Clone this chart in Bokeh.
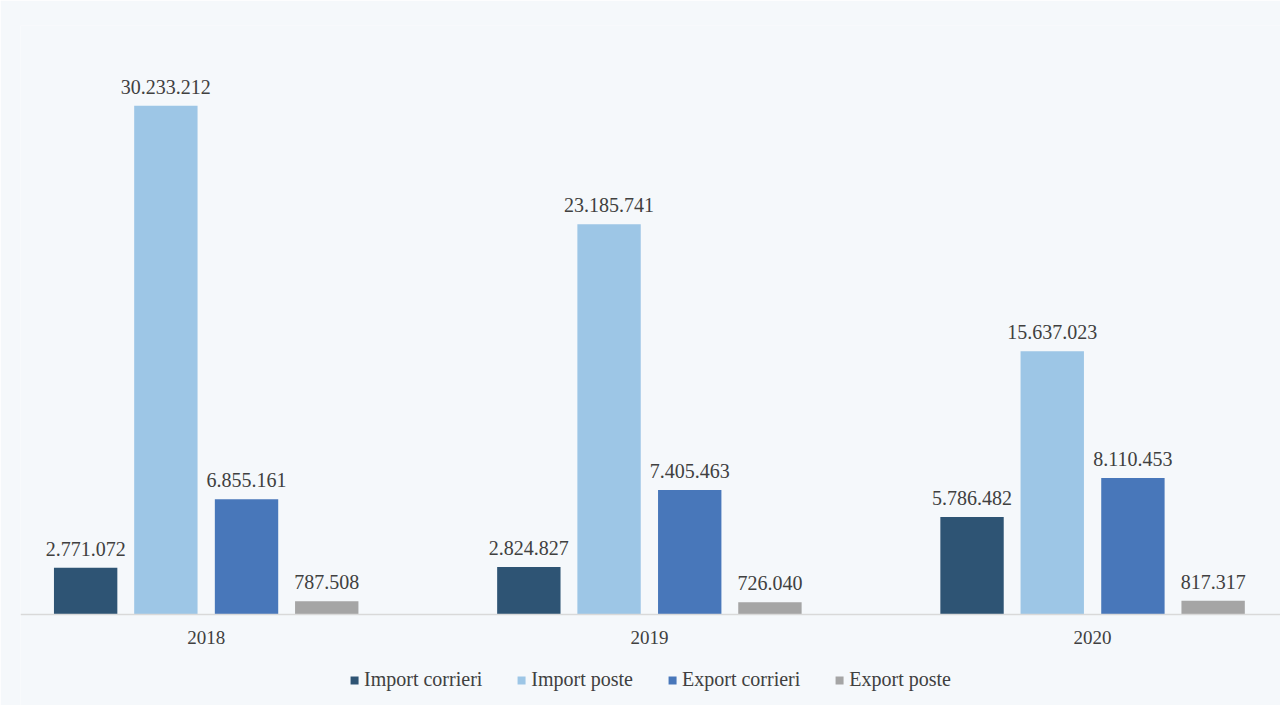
from bokeh.plotting import figure
from bokeh.models import ColumnDataSource, Legend, LegendItem, FixedTicker, Range1d, LabelSet
from bokeh.embed import file_html
from bokeh.resources import INLINE

years = ["2018", "2019", "2020"]
series = ["Import corrieri", "Import poste", "Export corrieri", "Export poste"]
import_corrieri = [2771072, 2824827, 5786482]
import_poste = [30233212, 23185741, 15637023]
export_corrieri = [6855161, 7405463, 8110453]
export_poste = [787508, 726040, 817317]
colors = ["#2E5474", "#9DC6E6", "#4877BA", "#A5A5A5"]

values = [import_corrieri, import_poste, export_corrieri, export_poste]
offsets = [-0.272, -0.091, 0.091, 0.272]
bar_w = 0.143

FONT = "Liberation Serif"
TXT = "#404040"
BG = "#F5F8FB"

Y_END = 35000000
Y_START = -91 * Y_END / 589

p = figure(width=1280, height=705, output_backend="svg", toolbar_location=None,
           x_range=Range1d(-0.419, 2.424), y_range=Range1d(Y_START, Y_END),
           min_border_left=20, min_border_right=0, min_border_top=25, min_border_bottom=0)
p.background_fill_color = BG
p.border_fill_color = BG
p.outline_line_color = None
p.xgrid.visible = False
p.ygrid.visible = False
p.yaxis.visible = False

items = []
for name, vals, off, col in zip(series, values, offsets, colors):
    src = ColumnDataSource(dict(
        x=[i + off for i in range(len(years))],
        top=vals,
        lab=[f"{v:,}".replace(",", ".") for v in vals],
    ))
    r = p.vbar(x="x", top="top", width=bar_w, source=src, fill_color=col, line_color=None)
    items.append(LegendItem(label=name, renderers=[r]))
    ls = LabelSet(x="x", y="top", text="lab", source=src, text_align="center",
                  text_baseline="bottom", y_offset=12, text_font=FONT,
                  text_font_size="20px", text_color=TXT)
    p.add_layout(ls)

p.xaxis.fixed_location = 0
p.xaxis.ticker = FixedTicker(ticks=list(range(len(years))))
p.xaxis.major_label_overrides = {i: y for i, y in enumerate(years)}
p.xaxis.axis_line_color = "#D9D9D9"
p.xaxis.axis_line_width = 1.5
p.xaxis.major_tick_line_color = None
p.xaxis.minor_tick_line_color = None
p.xaxis.major_label_text_font = FONT
p.xaxis.major_label_text_font_size = "19px"
p.xaxis.major_label_text_color = TXT
p.xaxis.major_label_standoff = 10

legend = Legend(items=items, orientation="horizontal", location="bottom_center",
                background_fill_alpha=0, border_line_color=None,
                glyph_width=10, glyph_height=10, label_standoff=5, spacing=34,
                label_text_font=FONT, label_text_font_size="20px",
                label_text_color=TXT, padding=0, margin=14)
p.add_layout(legend)

open("out.html", "w").write(file_html(p, INLINE))
